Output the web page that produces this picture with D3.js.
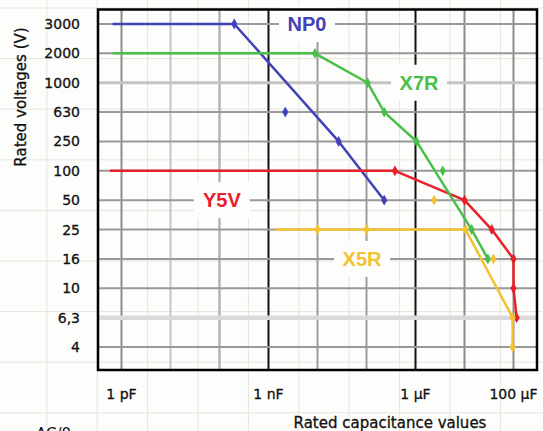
<!DOCTYPE html>
<html>
<head>
<meta charset="utf-8">
<style>
  body { margin: 0; background: #fdfdfb; }
  svg { display: block; }
</style>
<script src="https://cdn.jsdelivr.net/npm/d3@7"></script>
</head>
<body>
<svg width="543" height="431"></svg>
<script>
// rated voltage categories, top to bottom (evenly spaced)
var voltages = ["3000", "2000", "1000", "630", "250", "100", "50", "25", "16", "10", "6,3", "4"];

// capacitance ticks (farad)
var decades = [1e-12, 1e-11, 1e-10, 1e-9, 1e-8, 1e-7, 1e-6, 1e-5, 1e-4];
var tickValues = [1e-12, 1e-9, 1e-6, 1e-4];
var tickLabels = ["1 pF", "1 nF", "1 µF", "100 µF"];

// series: [capacitance, voltage]
var np0Line  = [[0.66e-12, "3000"], [200e-12, "3000"], [27e-9, "250"], [230e-9, "50"]];
var np0Marks = [[200e-12, "3000"], [2.2e-9, "630"], [27e-9, "250"], [230e-9, "50"]];

var x7rLine  = [[0.66e-12, "2000"], [8.9e-9, "2000"], [105e-9, "1000"], [230e-9, "630"],
                [1.05e-6, "250"], [14e-6, "25"], [30e-6, "16"]];
var x7rMarks = [[8.9e-9, "2000"], [105e-9, "1000"], [230e-9, "630"], [1.05e-6, "250"],
                [3.6e-6, "100"], [14e-6, "25"], [30e-6, "16"]];

var y5vLine  = [[0.58e-12, "100"], [380e-9, "100"], [10e-6, "50"], [36e-6, "25"],
                [100e-6, "16"], [100e-6, "10"], [116e-6, "6,3"]];
var y5vMarks = [[380e-9, "100"], [10e-6, "50"], [36e-6, "25"], [100e-6, "16"],
                [100e-6, "10"], [116e-6, "6,3"]];

var x5rLine  = [[1.35e-9, "25"], [10.5e-6, "25"], [96e-6, "6,3"], [96e-6, "4"]];
var x5rMarks = [[10e-9, "25"], [100e-9, "25"], [10.5e-6, "25"], [2.4e-6, "50"],
                [39e-6, "16"], [96e-6, "6,3"], [96e-6, "4"]];

var seriesNames = ["NP0", "Y5V", "X7R", "X5R"];
var seriesLines = [np0Line, y5vLine, x7rLine, x5rLine];
var seriesMarks = [np0Marks, y5vMarks, x7rMarks, x5rMarks];
var seriesColors = ["#4242b8", "#e8202a", "#48c048", "#f2c230"];
// where each series name sits
var labelPos = [[6.1e-9, "3000"], [112e-12, "50"], [1.18e-6, "1000"], [81e-9, "16"]];

var svg = d3.select("svg"),
    width = +svg.attr("width"),
    height = +svg.attr("height");

var plot = {left: 98, right: 537, top: 9.5, bottom: 370};

var x = d3.scaleLog().domain([1e-12, 1e-4]).range([121.5, 513.5]);
var y = d3.scalePoint().domain(voltages).range([24, 347]);

// spreadsheet cells behind the chart
var cellCols = d3.range(-3, 11).map(function(i) { return 198 + i * 50.4; });
var cellRows = d3.range(0, 9).map(function(i) { return 8 + i * 50.6; });
var bg = svg.append("g").attr("stroke", "#e4e4e0").attr("stroke-width", 1);
bg.selectAll(".cc").data(cellCols).enter().append("line")
    .attr("x1", function(d) { return d; }).attr("x2", function(d) { return d; })
    .attr("y1", 0).attr("y2", height);
bg.selectAll(".cr").data(cellRows).enter().append("line")
    .attr("x1", 0).attr("x2", width)
    .attr("y1", function(d) { return d; }).attr("y2", function(d) { return d; });

// vertical decade lines
var vStroke = ["#8c8c8c", "#c6c6c6", "#b4b4b4", "#111", "#9c9c9c", "#9c9c9c", "#111", "#8c8c8c", "#8c8c8c"];
svg.append("g").selectAll("line").data(decades).enter().append("line")
    .attr("x1", function(d) { return x(d); }).attr("x2", function(d) { return x(d); })
    .attr("y1", plot.top).attr("y2", plot.bottom)
    .attr("stroke", function(d, i) { return vStroke[i]; })
    .attr("stroke-width", function(d, i) { return i == 2 ? 2.5 : 2; });

// horizontal voltage lines
svg.append("g").selectAll("line").data(voltages).enter().append("line")
    .attr("x1", plot.left).attr("x2", plot.right)
    .attr("y1", function(d) { return y(d); }).attr("y2", function(d) { return y(d); })
    .attr("stroke", function(d) { return d == "6,3" ? "#dadada" : d == "1000" ? "#c4c4c4" : "#999"; })
    .attr("stroke-width", function(d) { return d == "6,3" ? 4.5 : d == "1000" ? 3 : 2; });

// white boxes behind the series names
svg.append("g").selectAll("rect").data(labelPos).enter().append("rect")
    .attr("x", function(d) { return x(d[0]) - 28; })
    .attr("y", function(d) { return y(d[1]) - 18; })
    .attr("width", 56).attr("height", 36)
    .attr("fill", "#fdfdfb");

// frame
svg.append("rect")
    .attr("x", plot.left).attr("y", plot.top)
    .attr("width", plot.right - plot.left).attr("height", plot.bottom - plot.top)
    .attr("fill", "none").attr("stroke", "#000").attr("stroke-width", 2.5);

var line = d3.line()
    .x(function(d) { return x(d[0]); })
    .y(function(d) { return y(d[1]); });

var diamond = d3.symbol().type(d3.symbolDiamond).size(34);

seriesNames.forEach(function(name, i) {
  var g = svg.append("g").attr("class", "series");
  g.append("path")
      .datum(seriesLines[i])
      .attr("d", line)
      .attr("fill", "none")
      .attr("stroke", seriesColors[i])
      .attr("stroke-width", 2.5)
      .attr("stroke-linejoin", "round");
  g.selectAll("path.mark").data(seriesMarks[i]).enter().append("path")
      .attr("class", "mark")
      .attr("d", diamond)
      .attr("transform", function(d) { return "translate(" + x(d[0]) + "," + y(d[1]) + ")"; })
      .attr("fill", seriesColors[i]);
  g.append("text")
      .attr("x", x(labelPos[i][0]))
      .attr("y", y(labelPos[i][1]) + 7)
      .attr("text-anchor", "middle")
      .attr("font-family", "Liberation Sans, Arial, sans-serif")
      .attr("font-weight", "bold")
      .attr("font-size", 20)
      .attr("fill", seriesColors[i])
      .text(name);
});

// y tick labels
svg.append("g").selectAll("text").data(voltages).enter().append("text")
    .attr("x", 80)
    .attr("y", function(d) { return y(d) + 5; })
    .attr("text-anchor", "end")
    .attr("font-family", "DejaVu Sans, sans-serif")
    .attr("font-size", 14)
    .attr("fill", "#111")
    .attr("stroke", "#111").attr("stroke-width", 0.3)
    .text(function(d) { return d; });

// x tick labels
svg.append("g").selectAll("text").data(tickValues).enter().append("text")
    .attr("x", function(d) { return x(d); })
    .attr("y", 399)
    .attr("text-anchor", "middle")
    .attr("font-family", "DejaVu Sans, sans-serif")
    .attr("font-size", 14)
    .attr("fill", "#111")
    .attr("stroke", "#111").attr("stroke-width", 0.3)
    .text(function(d, i) { return tickLabels[i]; });

// axis titles
svg.append("text")
    .attr("transform", "translate(26,97) rotate(-90)")
    .attr("text-anchor", "middle")
    .attr("font-family", "DejaVu Sans, sans-serif")
    .attr("font-size", 15)
    .attr("fill", "#111")
    .attr("stroke", "#111").attr("stroke-width", 0.3)
    .text("Rated voltages (V)");

svg.append("text")
    .attr("x", 390).attr("y", 428)
    .attr("text-anchor", "middle")
    .attr("font-family", "DejaVu Sans, sans-serif")
    .attr("font-size", 15)
    .attr("fill", "#111")
    .attr("stroke", "#111").attr("stroke-width", 0.3)
    .text("Rated capacitance values");

// caption below, cut off by the bottom edge as in the source
svg.append("text")
    .attr("x", 36).attr("y", 439)
    .attr("font-family", "DejaVu Sans, sans-serif")
    .attr("font-size", 15)
    .attr("fill", "#111")
    .text("AC/0");
</script>
</body>
</html>
